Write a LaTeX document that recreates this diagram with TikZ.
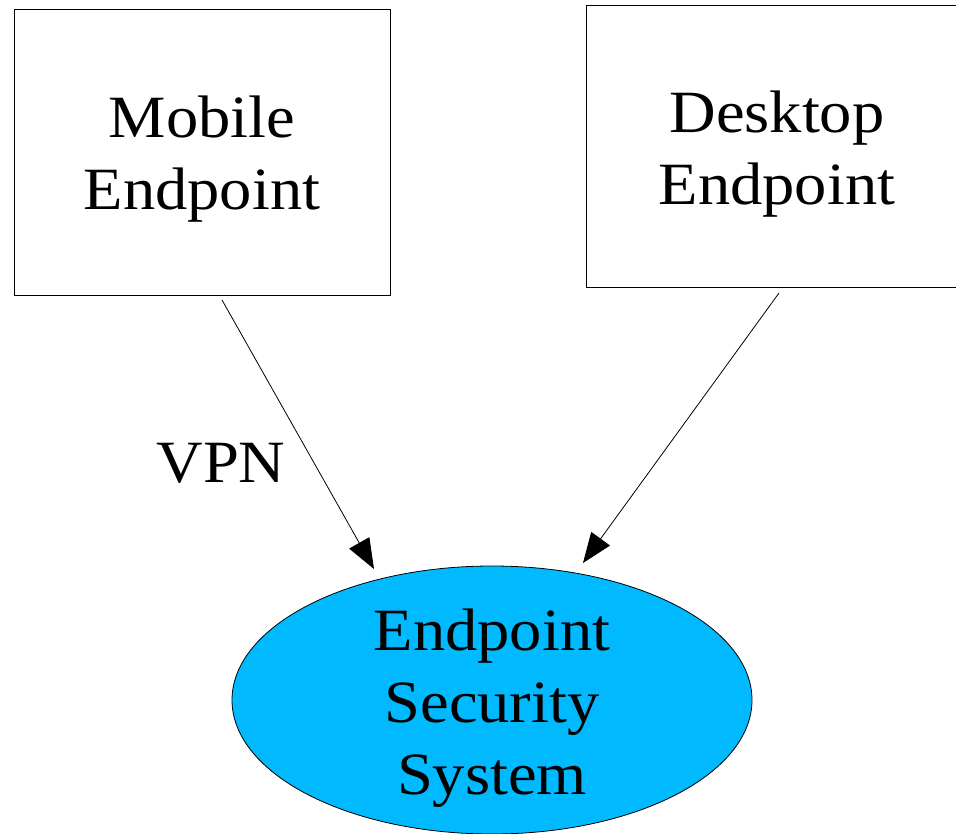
\documentclass[tikz,border=0pt]{standalone}
\usepackage{fontspec}
\setmainfont[FakeStretch=1.075]{Liberation Serif}
\usetikzlibrary{arrows.meta,shapes.geometric}
\definecolor{esscol}{RGB}{0,185,255}
\begin{document}
\begin{tikzpicture}[x=1pt,y=-1pt,
  boxnode/.style={draw=black,line width=1pt,rectangle,inner sep=0pt},
  ellnode/.style={draw=black,line width=0.8pt,ellipse,fill=esscol,inner sep=0pt,minimum width=520pt,minimum height=268pt},
  txt/.style={font=\fontsize{60}{72}\selectfont,align=center,inner sep=0pt},
  conn/.style={line width=0.8pt,-{Triangle[length=30pt,width=23pt]}}]
\useasboundingbox (0,0) rectangle (956,833);
\clip (0,0) rectangle (956,833);
% boxes
\node[boxnode,minimum width=376pt,minimum height=286pt] (mob) at (202,152) {};
\node[boxnode,minimum width=382pt,minimum height=282pt] (desk) at (777,146.5) {};
\node[ellnode] (ess) at (492,700) {};
% texts
\node[txt] (mobtxt) at (202,159) {Mobile\\Endpoint};
\node[txt] (desktxt) at (777,154.5) {Desktop\\Endpoint};
\node[txt] (esstxt) at (492,708) {Endpoint\\Security\\System};
% connector end points
\coordinate (mobout) at (222,300);
\coordinate (mobin) at (374,569);
\coordinate (deskout) at (779,293);
\coordinate (deskin) at (583,563);
\draw[conn] (mobout) -- (mobin);
\draw[conn] (deskout) -- (deskin);
\node[txt,anchor=base] (vpn) at (221,482) {VPN};
\end{tikzpicture}
\end{document}
